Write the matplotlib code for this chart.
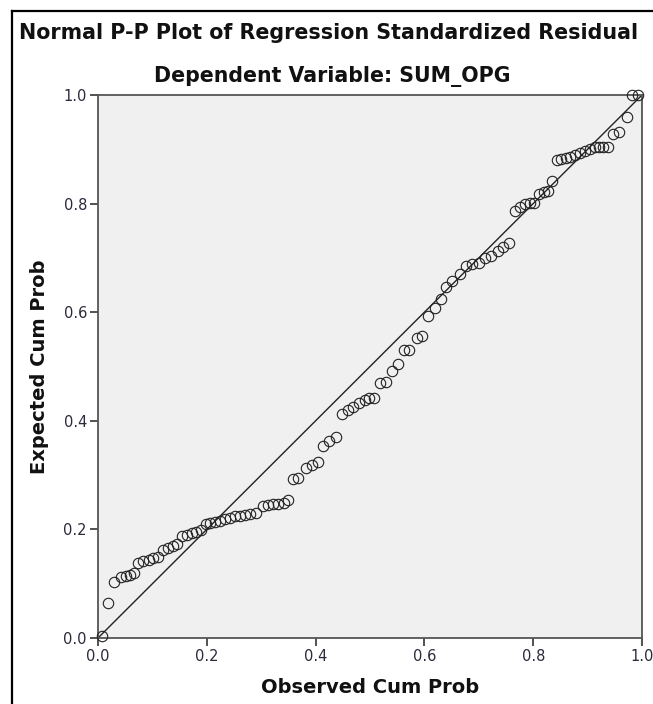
import matplotlib
matplotlib.use("Agg")
import matplotlib.pyplot as plt
from matplotlib.lines import Line2D

# Observed cumulative probability (x) and expected cumulative probability (y)
observed_cum_prob = [
    0.007, 0.019, 0.030, 0.042, 0.051, 0.059, 0.066, 0.074, 0.083, 0.093,
    0.102, 0.111, 0.120, 0.128, 0.137, 0.145, 0.155, 0.163, 0.172, 0.181,
    0.189, 0.198, 0.206, 0.215, 0.224, 0.233, 0.243, 0.252, 0.261, 0.270,
    0.280, 0.290, 0.304, 0.313, 0.322, 0.331, 0.341, 0.349, 0.359, 0.368,
    0.383, 0.393, 0.404, 0.414, 0.425, 0.437, 0.449, 0.459, 0.469, 0.480,
    0.490, 0.498, 0.508, 0.518, 0.529, 0.540, 0.551, 0.563, 0.572, 0.586,
    0.596, 0.607, 0.620, 0.630, 0.640, 0.651, 0.665, 0.676, 0.688, 0.700,
    0.711, 0.722, 0.735, 0.745, 0.755, 0.767, 0.776, 0.785, 0.794, 0.802,
    0.810, 0.819, 0.827, 0.835, 0.843, 0.851, 0.860, 0.868, 0.877, 0.886,
    0.895, 0.904, 0.914, 0.921, 0.929, 0.938, 0.947, 0.958, 0.972, 0.981,
    0.992,
]
expected_cum_prob = [
    0.004, 0.064, 0.103, 0.113, 0.115, 0.116, 0.120, 0.139, 0.141, 0.144,
    0.148, 0.150, 0.162, 0.165, 0.169, 0.174, 0.188, 0.190, 0.193, 0.195,
    0.198, 0.210, 0.212, 0.213, 0.215, 0.219, 0.221, 0.224, 0.225, 0.227,
    0.229, 0.230, 0.244, 0.245, 0.246, 0.247, 0.248, 0.255, 0.293, 0.295,
    0.313, 0.319, 0.325, 0.354, 0.363, 0.371, 0.413, 0.419, 0.425, 0.432,
    0.438, 0.442, 0.442, 0.469, 0.471, 0.491, 0.505, 0.530, 0.531, 0.553,
    0.556, 0.593, 0.607, 0.625, 0.646, 0.657, 0.670, 0.686, 0.688, 0.690,
    0.699, 0.703, 0.712, 0.720, 0.728, 0.787, 0.793, 0.799, 0.802, 0.802,
    0.818, 0.821, 0.824, 0.842, 0.880, 0.882, 0.884, 0.886, 0.890, 0.894,
    0.897, 0.900, 0.905, 0.905, 0.905, 0.905, 0.928, 0.931, 0.959, 1.000,
    1.000,
]
tick_values = [0.0, 0.2, 0.4, 0.6, 0.8, 1.0]
tick_labels = ["0.0", "0.2", "0.4", "0.6", "0.8", "1.0"]
reference_line = [0.0, 1.0]

W, H = 653, 704
fig = plt.figure(figsize=(W / 100, H / 100), dpi=100)
fig.patch.set_facecolor("white")

ax = fig.add_axes([98 / W, (H - 638) / H, 544 / W, 543 / H])
ax.set_facecolor("#f0f0f0")

ax.plot(reference_line, reference_line, color="#222222", lw=1.0, zorder=2)
ax.plot(observed_cum_prob, expected_cum_prob, linestyle="none", marker="o",
        markersize=7.5, markerfacecolor="none", markeredgecolor="#222222",
        markeredgewidth=0.8, zorder=3, clip_on=False)

ax.set_xlim(0, 1)
ax.set_ylim(0, 1)
ax.set_xticks(tick_values)
ax.set_xticklabels(tick_labels)
ax.set_yticks(tick_values)
ax.set_yticklabels(tick_labels)
ax.tick_params(axis="both", direction="out", length=6, width=1.2,
               color="#333333", labelsize=10.5, labelcolor="#2a2a3a", pad=2)
for sp in ax.spines.values():
    sp.set_color("#555555")
    sp.set_linewidth(1.3)

ax.set_xlabel("Observed Cum Prob", fontsize=14, fontweight="bold",
              color="#111111", labelpad=10)
ax.set_ylabel("Expected Cum Prob", fontsize=14, fontweight="bold",
              color="#111111", labelpad=10)

fig.text(329 / W, 1 - 39 / H,
         "Normal P-P Plot of Regression Standardized Residual",
         ha="center", va="baseline", fontsize=14.9, fontweight="bold", color="#111111")
fig.text(332 / W, 1 - 82 / H, "Dependent Variable: SUM_OPG",
         ha="center", va="baseline", fontsize=14.8, fontweight="bold", color="#111111")

# outer frame (left and top edges visible)
fig.add_artist(Line2D([12 / W, 12 / W], [-0.05, 1 - 11 / H], color="black",
                      lw=1.6, transform=fig.transFigure))
fig.add_artist(Line2D([12 / W, 1.05], [1 - 11 / H, 1 - 11 / H], color="black",
                      lw=1.6, transform=fig.transFigure))

fig.savefig("out.png", dpi=100)
